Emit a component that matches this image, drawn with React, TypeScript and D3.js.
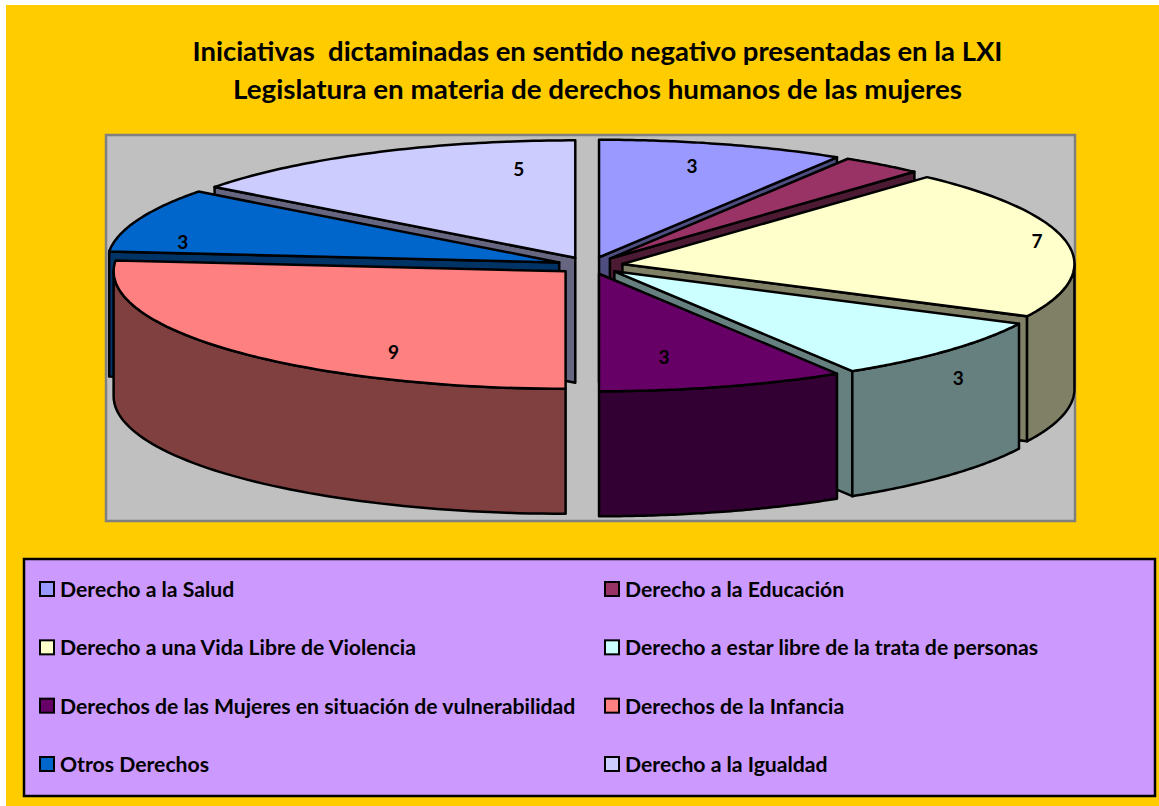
import * as d3 from "d3";

const categories = [
  "Derecho a la Salud",
  "Derecho a la Educación",
  "Derecho a una Vida Libre de Violencia",
  "Derecho a estar libre de la trata de personas",
  "Derechos de las Mujeres en situación de vulnerabilidad",
  "Derechos de la Infancia",
  "Otros Derechos",
  "Derecho a la Igualdad",
];
const values = [3, 1, 7, 3, 3, 9, 3, 5];
const colors = ["#9999ff", "#993366", "#ffffcc", "#ccffff", "#660066", "#ff8080", "#0066cc", "#ccccff"];
const titleLines = [
  "Iniciativas  dictaminadas en sentido negativo presentadas en la LXI",
  "Legislatura en materia de derechos humanos de las mujeres",
];
// the 1 of Educación has no label in the original
const hiddenLabels = ["Derecho a la Educación"];

const width = 1159;
const height = 806;
const font = "Lato, 'Open Sans', sans-serif";

const cx = 590;
const cy = 265.5;
const rx = 452;
const ry = 117.5;
const explode = 33;
const depth = 125;

// widths of the two title lines, Lato runs a bit narrow on the second
const titleWidths = [810, 729];

// label centre relative to the slice apex
const labelOffsets = [
  [93, -91.5],
  [0, 0],
  [414.5, -23],
  [344, 106],
  [65, 83],
  [-172, 80],
  [-376.5, -21],
  [-56.5, -89],
];

// slices are painted from the back of the pie to the front
const paintOrder = [7, 0, 1, 2, 6, 3, 4, 5];

const arcs = d3
  .pie<number>()
  .sort(null)
  .startAngle(0)
  .endAngle(2 * Math.PI)(values);

const line = d3.line();

function shade(c: string) {
  const r = d3.rgb(c);
  return d3.rgb(r.r / 2, r.g / 2, r.b / 2).formatHex();
}

function Slice({ index }: { index: number }) {
  const a = arcs[index];
  const mid = (a.startAngle + a.endAngle) / 2;
  const ax = cx + explode * Math.sin(mid);
  const ay = cy - (explode * ry * Math.cos(mid)) / rx;
  const pt = (t: number, drop = 0): [number, number] => [
    ax + rx * Math.sin(t),
    ay - ry * Math.cos(t) + drop,
  ];
  const sweep = (t0: number, t1: number, drop = 0) =>
    d3.range(0, 61).map((i) => pt(t0 + ((t1 - t0) * i) / 60, drop));

  const fill = colors[index];
  const dark = shade(fill);
  const walls: [number, number][][] = [];
  const apex: [number, number] = [ax, ay];
  const apexLow: [number, number] = [ax, ay + depth];
  if (Math.sin(a.startAngle) < -1e-6) {
    walls.push([apex, pt(a.startAngle), pt(a.startAngle, depth), apexLow]);
  }
  if (Math.sin(a.endAngle) > 1e-6) {
    walls.push([apex, pt(a.endAngle), pt(a.endAngle, depth), apexLow]);
  }
  const front0 = Math.max(a.startAngle, Math.PI / 2);
  const front1 = Math.min(a.endAngle, (3 * Math.PI) / 2);
  if (front0 < front1) {
    walls.push([...sweep(front0, front1), ...sweep(front0, front1, depth).reverse()]);
  }
  const top = [apex, ...sweep(a.startAngle, a.endAngle)];
  const off = labelOffsets[index];

  return (
    <g stroke="#000" strokeWidth={2.5} strokeLinejoin="round">
      {walls.map((w, i) => (
        <path key={i} d={line(w) + "Z"} fill={dark} />
      ))}
      <path d={line(top) + "Z"} fill={fill} />
      {!hiddenLabels.includes(categories[index]) && (
        <text
          x={ax + off[0]}
          y={ay + off[1]}
          textAnchor="middle"
          dominantBaseline="central"
          stroke="none"
          fontFamily={font}
          fontWeight={700}
          fontSize={19}
          fill="#000"
        >
          {values[index]}
        </text>
      )}
    </g>
  );
}

function Legend() {
  const rows = d3.scaleLinear().domain([0, 3]).range([589, 764]);
  const cols = [40, 605];
  return (
    <g>
      <rect x={24} y={559} width={1131} height={237} fill="#cc99ff" stroke="#000" strokeWidth={2.5} />
      {categories.map((name, i) => {
        const x = cols[i % 2];
        const y = rows(Math.floor(i / 2));
        return (
          <g key={name}>
            <rect x={x} y={y - 7} width={14} height={14} fill={colors[i]} stroke="#000" strokeWidth={2} />
            <text
              x={x + 20}
              y={y}
              dominantBaseline="central"
              fontFamily={font}
              fontWeight={700}
              fontSize={21.2}
              fill="#000"
            >
              {name}
            </text>
          </g>
        );
      })}
    </g>
  );
}

export default function App() {
  return (
    <svg
      width={width}
      height={height}
      viewBox={`0 0 ${width} ${height}`}
      style={{ position: "absolute", left: 0, top: 0 }}
    >
      <rect width={width} height={height} fill="#fff" />
      <rect x={6} y={5} width={width - 6} height={height - 5} fill="#ffcc00" />
      {titleLines.map((t, i) => (
        <text
          key={i}
          x={597.5}
          y={50 + i * 38}
          textAnchor="middle"
          dominantBaseline="central"
          fontFamily={font}
          fontWeight={700}
          fontSize={27.5}
          fill="#000"
          xmlSpace="preserve"
          textLength={titleWidths[i]}
          lengthAdjust="spacingAndGlyphs"
        >
          {t}
        </text>
      ))}
      <rect x={106} y={135} width={969} height={386} fill="#c0c0c0" stroke="#808080" strokeWidth={2.5} />
      {paintOrder.map((i) => (
        <Slice key={i} index={i} />
      ))}
      <Legend />
    </svg>
  );
}
